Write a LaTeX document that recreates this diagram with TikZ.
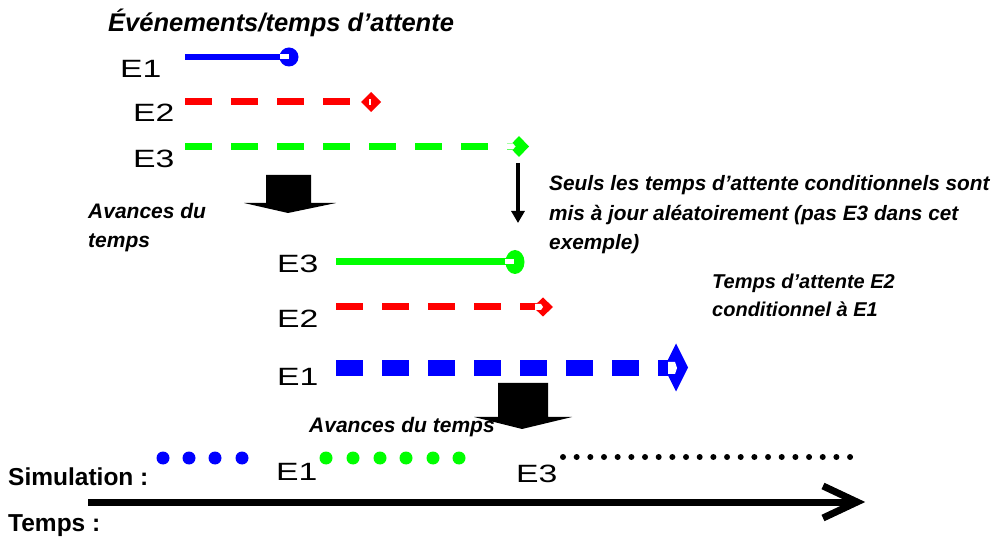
\documentclass[tikz,border=0pt]{standalone}
\usepackage{fontspec}
\setmainfont{Liberation Sans}
\usetikzlibrary{arrows.meta}
\definecolor{pblue}{RGB}{0,0,255}
\definecolor{pred}{RGB}{255,0,0}
\definecolor{pgreen}{RGB}{0,255,0}
\begin{document}
\begin{tikzpicture}[x=1pt,y=-1pt,
  lbl/.style={anchor=base west,inner sep=0pt,font=\fontsize{21}{29.5}\selectfont\bfseries\itshape},
  mlbl/.style={anchor=north west,inner sep=0pt,align=left,font=\fontsize{21}{29.5}\selectfont\bfseries\itshape},
  blbl/.style={anchor=base west,inner sep=0pt,font=\fontsize{24.5}{28}\selectfont\bfseries},
  ev/.style={anchor=base west,inner sep=0pt,font=\fontsize{25}{30}\selectfont},
  dashline/.style={line width=#1,dash pattern=on 27pt off 19pt},
  notch/.style={fill=white,draw=none},
  blockarrow/.style={fill=black,draw=none},
  dotb/.style={circle,fill=pblue,inner sep=0pt,minimum size=13pt},
  dotg/.style={circle,fill=pgreen,inner sep=0pt,minimum size=13pt},
  dotk/.style={circle,fill=black,inner sep=0pt,minimum size=6pt}]
\useasboundingbox (0,0) rectangle (994,537);

% title
\node[lbl,font=\fontsize{25.5}{30}\selectfont\bfseries\itshape] (title) at (108,32) {Événements/temps d’attente};

% ---- first group ----
\node[ev] (e1a) at (120,78) {\scalebox{1.35}[1]{E1}};
\node[ev] (e2a) at (133,122) {\scalebox{1.35}[1]{E2}};
\node[ev] (e3a) at (133,168) {\scalebox{1.35}[1]{E3}};

\coordinate (a1s) at (185,57); \coordinate (a1e) at (283,57);
\draw[pblue,line width=6pt] (a1s) -- (a1e);
\fill[pblue] (289,57) circle (9.5);
\fill[notch] (280,54.5) rectangle (289,59.5);

\coordinate (a2s) at (185,102); \coordinate (a2e) at (350,102);
\draw[pred,dashline=7pt] (a2s) -- (a2e);
\fill[pred] (361,102) -- (371,92) -- (381,102) -- (371,112) -- cycle;
\fill[notch] (369.3,99) rectangle (370.5,105);

\coordinate (a3s) at (185,147); \coordinate (a3e) at (516,147);
\draw[pgreen,dashline=7pt] (a3s) -- (a3e);
\fill[pgreen] (509,146.5) -- (519,136) -- (529,146.5) -- (519,157) -- cycle;
\fill[notch] (507,143.5) -- (513,143.5) -- (515.5,146.5) -- (513,149.5) -- (507,149.5) -- cycle;

% vertical arrow
\coordinate (va) at (518,163); \coordinate (vb) at (518,223);
\draw[line width=4pt,-{Triangle[width=13pt,length=12pt]}] (va) -- (vb);

% block arrow 1
\fill[blockarrow] (266,175) -- (311,175) -- (311,203) -- (336,203) -- (288,213) -- (244,203) -- (266,203) -- cycle;

\node[mlbl] (av1) at (88,203) {Avances du\\temps};

\node[mlbl,font=\fontsize{20.8}{29.5}\selectfont\bfseries\itshape] (seuls) at (549,175.5) {Seuls les temps d’attente conditionnels sont\\mis à jour aléatoirement (pas E3 dans cet\\exemple)};

\node[mlbl,font=\fontsize{20}{28}\selectfont\bfseries\itshape] (cond) at (712,274) {Temps d’attente E2\\conditionnel à E1};

% ---- second group ----
\node[ev] (e3b) at (277,273) {\scalebox{1.35}[1]{E3}};
\node[ev] (e2b) at (277,328) {\scalebox{1.35}[1]{E2}};
\node[ev] (e1b) at (277,386) {\scalebox{1.35}[1]{E1}};

\coordinate (b3s) at (336,262); \coordinate (b3e) at (510,262);
\draw[pgreen,line width=7pt] (b3s) -- (b3e);
\fill[pgreen] (515,262) ellipse (9.5 and 12);
\fill[notch] (505,259.5) rectangle (514,264.5);

\coordinate (b2s) at (336,307); \coordinate (b2e) at (540,307);
\draw[pred,dashline=7pt] (b2s) -- (b2e);
\fill[pred] (533,307) -- (543,297.5) -- (553,307) -- (543,316.5) -- cycle;
\fill[notch] (535,304) -- (541,304) -- (543,307) -- (541,310) -- (535,310) -- cycle;

\coordinate (b1s) at (336,368); \coordinate (b1e) at (675,368);
\draw[pblue,dashline=16pt] (b1s) -- (b1e);
\fill[pblue] (664,367.5) -- (676,343.5) -- (688,367.5) -- (676,391.5) -- cycle;
\fill[notch] (668,362) -- (675,362) -- (677,368) -- (675,374) -- (668,374) -- cycle;

% block arrow 2
\fill[blockarrow] (498,383) -- (548,383) -- (548,417) -- (572,417) -- (522,429) -- (474,417) -- (498,417) -- cycle;

\node[lbl] (av2) at (309,432) {Avances du temps};

% ---- timeline ----
\node[blbl] (sim) at (8,485) {Simulation :};
\node[blbl] (tps) at (8,531) {Temps :};

\foreach \x [count=\i] in {163,189,215,242} \node[dotb] (bd\i) at (\x,458) {};
\foreach \x [count=\i] in {326,353,380,406,433,459} \node[dotg] (gd\i) at (\x,458) {};
\foreach \i in {0,...,21} \node[dotk] (kd\i) at ({563+\i*13.67},457) {};

\node[ev] (e1c) at (276,480) {\scalebox{1.35}[1]{E1}};
\node[ev] (e3c) at (516,482) {\scalebox{1.35}[1]{E3}};

\coordinate (t0) at (88,502); \coordinate (t1) at (857,502);
\coordinate (ch1) at (823,486); \coordinate (ch2) at (823,518);
\draw[line width=7pt] (t0) -- (t1);
\draw[line width=7pt,line join=miter] (ch1) -- (t1) -- (ch2);
\end{tikzpicture}
\end{document}
